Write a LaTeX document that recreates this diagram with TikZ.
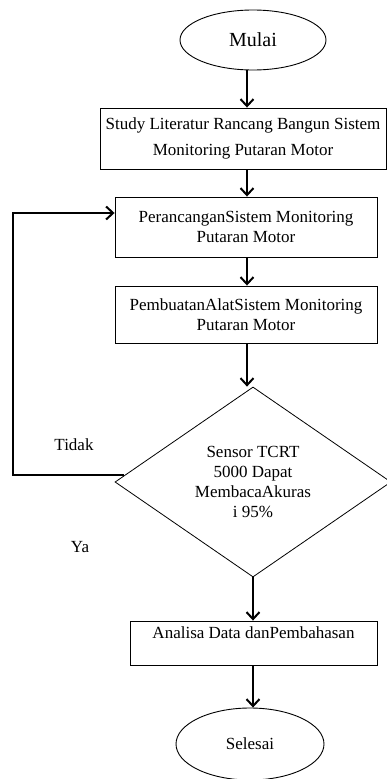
\documentclass[tikz,border=0pt]{standalone}
\usepackage{fontspec}
\setmainfont{Liberation Serif}
\usetikzlibrary{shapes.geometric,arrows.meta,positioning}
\newcommand\flowtextstyle{\fontsize{17}{20}\selectfont}
\newcommand\flowtitlestyle{\fontsize{20}{24}\selectfont}
\tikzset{
  flowbox/.style={draw, line width=0.9pt, rectangle, align=center, inner sep=0pt, font=\flowtextstyle},
  flowend/.style={draw, line width=0.9pt, ellipse, inner sep=0pt, font=\flowtextstyle},
  flowdecision/.style={draw, line width=0.8pt, diamond, aspect=1.45, inner sep=0pt, align=center, font=\flowtextstyle},
  flowarrow/.style={line width=2pt, -{Straight Barb[length=7pt, width=13pt]}},
}
\begin{document}
\begin{tikzpicture}[x=1pt, y=-1pt]
    \useasboundingbox (0,0) rectangle (387,779);
    \node[flowend, minimum width=146, minimum height=60, font=\flowtitlestyle] (mulai) at (253,40) {Mulai};
    \node[flowbox, minimum width=286, minimum height=61] (study) at (243,138.5)
      {Study Literatur Rancang Bangun Sistem\\[6pt]Monitoring Putaran Motor};
    \node[flowbox, minimum width=262, minimum height=60] (perancangan) at (246,227)
      {PerancanganSistem Monitoring\\Putaran Motor};
    \node[flowbox, minimum width=262, minimum height=57] (pembuatan) at (246,314.5)
      {PembuatanAlatSistem Monitoring\\Putaran Motor};
    \node[flowdecision, minimum width=276, minimum height=190] (sensor) at (253,482)
      {Sensor TCRT\\5000 Dapat\\MembacaAkuras\\i 95\%};
    \node[flowbox, minimum width=247, minimum height=44] (analisa) at (253.5,643)
      {Analisa Data danPembahasan\\~};
    \node[flowend, minimum width=148, minimum height=72] (selesai) at (250,744) {Selesai};
    \node[font=\flowtextstyle] (tidak) at (74,445) {Tidak};
    \node[font=\flowtextstyle] (ya) at (80,547) {Ya};
    \coordinate (kolom) at (247,0);
    \coordinate (kolomb) at (253,0);
    \coordinate (kiri) at (13,0);
    \draw[flowarrow] (mulai.south -| kolom) -- (study.north -| kolom);
    \draw[flowarrow] (study.south -| kolom) -- (perancangan.north -| kolom);
    \draw[flowarrow] (perancangan.south -| kolom) -- (pembuatan.north -| kolom);
    \draw[flowarrow] (pembuatan.south -| kolom) -- (sensor.north -| kolom);
    \draw[flowarrow] (sensor.south -| kolomb) -- (analisa.north -| kolomb);
    \draw[flowarrow] (analisa.south -| kolomb) -- (selesai.north -| kolomb);
    \draw[flowarrow] (sensor.177) -- (sensor.177 -| kiri) |- ([yshift=14pt]perancangan.west);
  \end{tikzpicture}
\end{document}
